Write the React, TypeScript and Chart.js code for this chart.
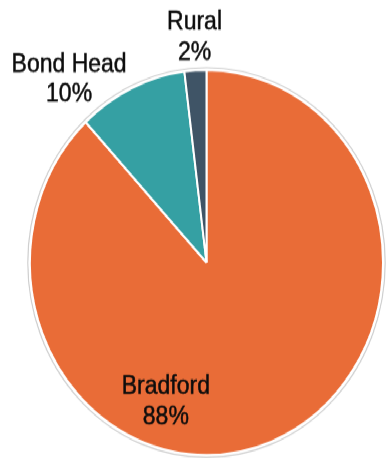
import React, { useEffect, useRef } from "react";
import { Chart, registerables } from "chart.js";

Chart.register(...registerables);

const categories = ["Bradford", "Bond Head", "Rural"];
const shares = [88, 10, 2];
const sliceColors = ["#E96C37", "#35A0A3", "#3F5466"];

// label placement relative to pie centre: angle (deg clockwise from top) and radius factor
const labelPlacement = [
  { angle: -162.1, r: 0.75 },
  { angle: -39.0, r: 1.237 },
  { angle: -3.3, r: 1.18 },
];

const FONT = "'Liberation Sans', Arial, sans-serif";

const labelPlugin = {
  id: "sliceLabels",
  beforeDatasetsDraw(chart: any) {
    const meta = chart.getDatasetMeta(0);
    const arc = meta.data[0];
    if (!arc) return;
    const ctx = chart.ctx;
    ctx.save();
    ctx.beginPath();
    ctx.arc(arc.x, arc.y, arc.outerRadius + 2.2, 0, Math.PI * 2);
    ctx.strokeStyle = "#cfcfcf";
    ctx.lineWidth = 1.2;
    ctx.stroke();
    ctx.restore();
  },
  afterDatasetsDraw(chart: any) {
    const meta = chart.getDatasetMeta(0);
    const ctx = chart.ctx;
    ctx.save();
    ctx.font = `23px ${FONT}`;
    ctx.fillStyle = "#0d0d0d";
    ctx.strokeStyle = "#0d0d0d";
    ctx.lineWidth = 0.45;
    ctx.textAlign = "center";
    ctx.textBaseline = "alphabetic";
    meta.data.forEach((arc: any, i: number) => {
      const p = labelPlacement[i];
      const a = (p.angle * Math.PI) / 180;
      const cx = arc.x + Math.sin(a) * arc.outerRadius * p.r;
      const cy = arc.y - Math.cos(a) * arc.outerRadius * p.r;
      const lh = 27.5;
      const capMid = 23 * 0.358;
      const lines = [categories[i], `${shares[i]}%`];
      lines.forEach((t, k) => {
        const y = cy + (k === 0 ? -lh / 2 : lh / 2) + capMid;
        ctx.fillText(t, cx, y);
        ctx.strokeText(t, cx, y);
      });
    });
    ctx.restore();
  },
};

export default function App() {
  const ref = useRef<HTMLCanvasElement | null>(null);
  useEffect(() => {
    if (!ref.current) return;
    const chart = new Chart(ref.current, {
      type: "pie",
      data: {
        labels: categories,
        datasets: [
          {
            data: shares,
            backgroundColor: sliceColors,
            borderColor: "#ffffff",
            borderWidth: 2,
          },
        ],
      },
      options: {
        animation: false,
        responsive: true,
        maintainAspectRatio: false,
        radius: 176.5,
        layout: { padding: { left: 30, right: 3, top: 64.2, bottom: 2.8 } },
        plugins: {
          legend: { display: false },
          tooltip: { enabled: false },
        },
        events: [],
      } as any,
      plugins: [labelPlugin],
    });
    return () => chart.destroy();
  }, []);
  return (
    <div
      style={{
        position: "fixed",
        left: 0,
        top: 0,
        width: 386,
        height: 420,
        transform: "scaleY(1.0907)",
        transformOrigin: "0 0",
        background: "#ffffff",
      }}
    >
      <canvas ref={ref} />
    </div>
  );
}
